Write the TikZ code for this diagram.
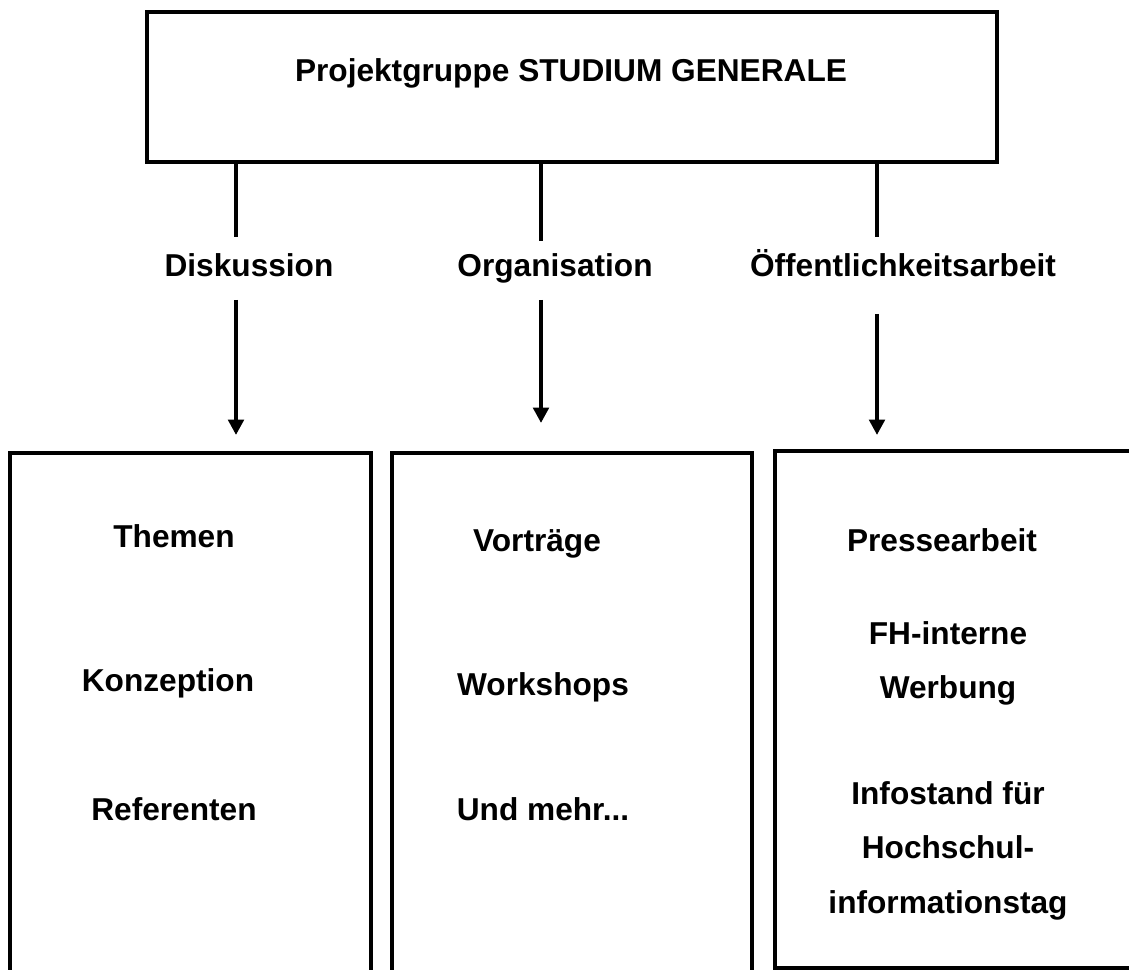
\documentclass[tikz,border=0pt]{standalone}
\usepackage{fontspec}
\setmainfont{Liberation Sans}
\usetikzlibrary{arrows.meta,fit}

\begin{document}
\begin{tikzpicture}[
  x=0.025cm, y=-0.025cm,
  box/.style={rectangle, draw, line width=3.4pt, inner sep=0pt},
  wire/.style={line width=2.8pt},
  arrow/.style={wire, -{Triangle[width=11pt, length=11pt]}},
  txt/.style={anchor=base, inner sep=0pt, font=\bfseries\fontsize{22.5}{34}\selectfont}
]
\useasboundingbox (0,0) rectangle (1129,970);
\clip (0,0) rectangle (1129,970);

% Top box
\node[box, fit={(147,12) (997,162)}] (gruppe) {};
\node[txt] (titel) at (571,82) {Projektgruppe STUDIUM GENERALE};

% Branch labels
\node[txt] (diskussion) at (249,277) {Diskussion};
\node[txt] (organisation) at (555,277) {Organisation};
\node[txt] (oeffentlich) at (903,277) {Öffentlichkeitsarbeit};

% Bottom boxes
\node[box, fit={(10,453) (371,1010)}] (dbox) {};
\node[box, fit={(392,453) (752,1010)}] (obox) {};
\node[box, fit={(775,451) (1140,968)}] (pbox) {};

% Contents: Diskussion
\node[txt] (themen) at (174,547) {Themen};
\node[txt] (konzeption) at (168,691) {Konzeption};
\node[txt] (referenten) at (174,820) {Referenten};

% Contents: Organisation
\node[txt] (vortraege) at (537,551) {Vorträge};
\node[txt] (workshops) at (543,695) {Workshops};
\node[txt] (mehr) at (543,820) {Und mehr...};

% Contents: Oeffentlichkeitsarbeit
\node[txt] (presse) at (942,551) {Pressearbeit};
\node[txt] (fh) at (948,644) {FH-interne};
\node[txt] (werbung) at (948,698) {Werbung};
\node[txt] (infostand) at (948,804) {Infostand für};
\node[txt] (hochschul) at (948,858) {Hochschul-};
\node[txt] (infotag) at (948,913) {informationstag};

% Line ends
\coordinate (d1) at (236,237);
\coordinate (d2) at (236,300);
\coordinate (d3) at (236,435);
\coordinate (o1) at (541,241);
\coordinate (o2) at (541,300);
\coordinate (o3) at (541,423);
\coordinate (p1) at (877,237);
\coordinate (p2) at (877,314);
\coordinate (p3) at (877,435);

% Wires
\draw[wire] (d1 |- gruppe.south) -- (d1);
\draw[wire] (o1 |- gruppe.south) -- (o1);
\draw[wire] (p1 |- gruppe.south) -- (p1);
\draw[arrow] (d2) -- (d3);
\draw[arrow] (o2) -- (o3);
\draw[arrow] (p2) -- (p3);

\end{tikzpicture}
\end{document}
